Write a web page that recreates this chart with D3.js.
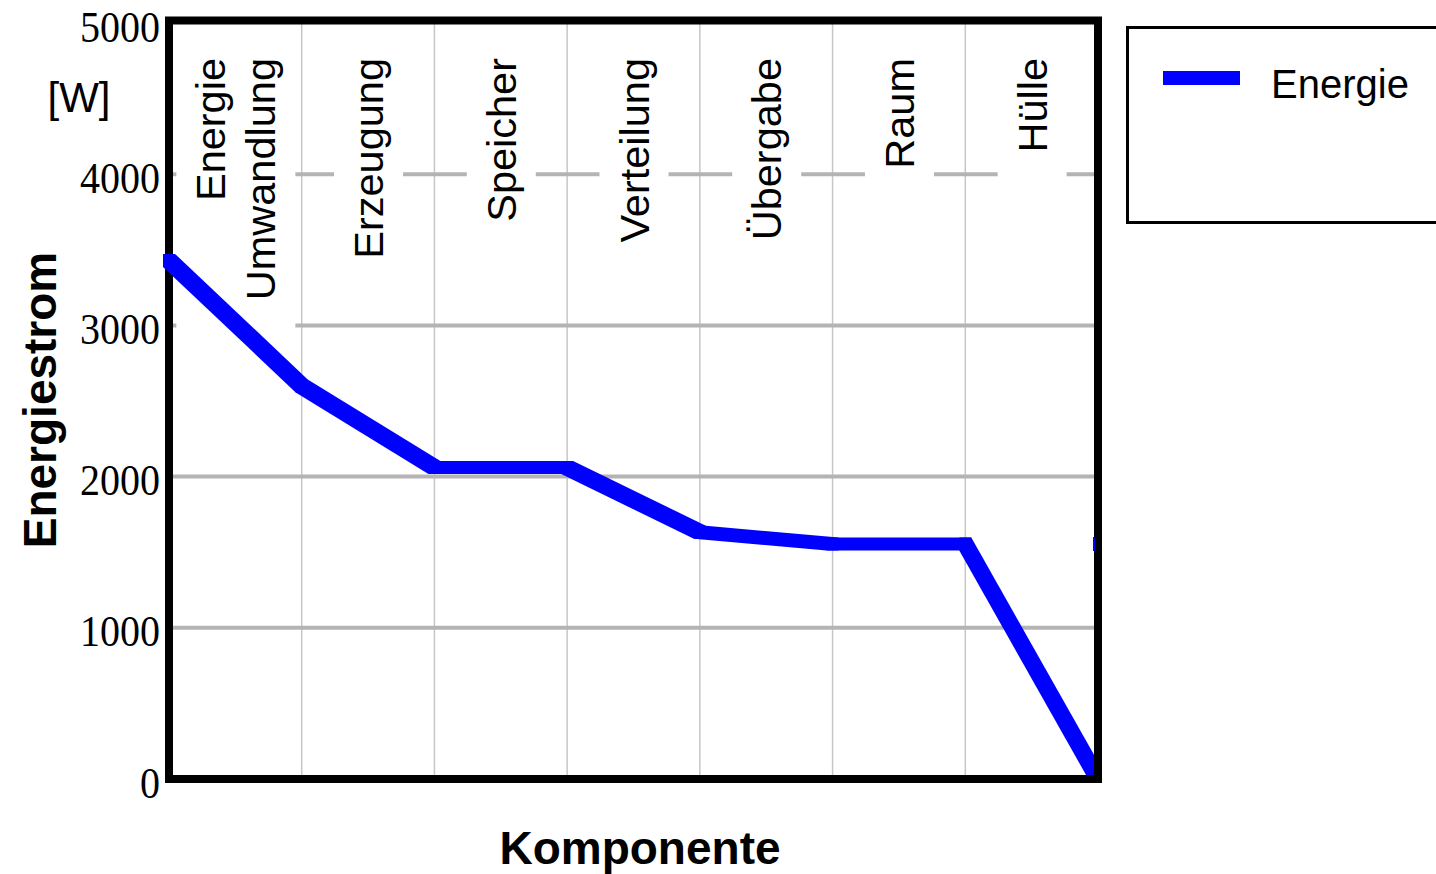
<!DOCTYPE html>
<html><head><meta charset="utf-8">
<script src="https://cdn.jsdelivr.net/npm/d3@7"></script>
<style>html,body{margin:0;padding:0;background:#fff;overflow:hidden}</style>
</head><body><svg id="c" width="1436" height="874"></svg>
<script>
// ---- data ----
const categories = [["Energie","Umwandlung"],["Erzeugung"],["Speicher"],["Verteilung"],["Übergabe"],["Raum"],["Hülle"]];
const boundaryIndex = [0,1,2,3,4,5,6,7];
const energyValues = [3430, 2600, 2060, 2060, 1632, 1554, 1554, 0];
const yTicks = [0,1000,2000,3000,4000,5000];
const gridValues = [1000,2000,3000,4000];
const seriesName = "Energie";
const yLabel = "Energiestrom";
const yUnit = "[W]";
const xLabel = "Komponente";

// ---- layout ----
const L = 169, R = 1098, T = 23, B = 779;
const svg = d3.select("#c");
const x = d3.scaleLinear().domain([0, categories.length]).range([L, R]);
const y = d3.scaleLinear().domain([0, 5000]).range([B, T]);
const sans = "'Liberation Sans', Arial, sans-serif";
const serif = "'Liberation Serif', 'Times New Roman', serif";

svg.append("defs").append("clipPath").attr("id", "clip")
  .append("rect").attr("x", 0).attr("y", 0).attr("width", R - 4).attr("height", B - 4);

// vertical grid lines at category boundaries
svg.append("g").selectAll("line").data(d3.range(1, categories.length)).join("line")
  .attr("x1", d => x(d)).attr("x2", d => x(d)).attr("y1", T).attr("y2", B)
  .attr("stroke", "#c6c6c6").attr("stroke-width", 1.5);

// horizontal grid lines
svg.append("g").selectAll("line").data(gridValues).join("line")
  .attr("x1", L).attr("x2", R).attr("y1", d => y(d)).attr("y2", d => y(d))
  .attr("stroke", "#b4b4b4").attr("stroke-width", 4);

// category labels with white boxes
const lab = svg.append("g").selectAll("g").data(categories).join("g")
  .attr("transform", (d, i) => `translate(${(x(i) + x(i + 1)) / 2},58) rotate(-90)`);
lab.each(function(lines) {
  const g = d3.select(this);
  const t = g.append("text").attr("text-anchor", "end")
    .attr("font-family", sans).attr("font-size", 41.5).attr("fill", "#000");
  lines.forEach((s, k) => {
    t.append("tspan").attr("x", 0).attr("y", 15 + (k - (lines.length - 1) / 2) * 50).text(s);
  });
  const bb = t.node().getBBox();
  g.insert("rect", "text")
    .attr("x", bb.x - 35).attr("width", bb.width + 45)
    .attr("y", bb.y - 11).attr("height", bb.height + 22)
    .attr("fill", "#fff");
});

// frame
svg.append("rect").attr("x", L).attr("y", T - 2.5).attr("width", R - L).attr("height", B - T + 2.5)
  .attr("fill", "none").attr("stroke", "#000").attr("stroke-width", 8);

// y axis tick labels
const ax = svg.append("g").attr("transform", `translate(${L},0)`)
  .call(d3.axisLeft(y).tickValues(yTicks).tickSize(0).tickPadding(9).tickFormat(d3.format("d")));
ax.select(".domain").remove();
ax.selectAll("text").attr("font-family", serif).attr("font-size", 44).attr("fill", "#000")
  .attr("dy", "0.41em")
  .attr("textLength", d => String(d).length * 20).attr("lengthAdjust", "spacingAndGlyphs");

// energy line drawn with a rectangular pen
const hw = 6, hh = 6.5;
const pts = energyValues.map((v, i) => [x(boundaryIndex[i]), y(v)]);
const segs = d3.pairs(pts).map(([a, b]) => {
  const c = [];
  [a, b].forEach(p => c.push([p[0] - hw, p[1] - hh], [p[0] + hw, p[1] - hh], [p[0] + hw, p[1] + hh], [p[0] - hw, p[1] + hh]));
  return d3.polygonHull(c);
});
svg.append("g").attr("clip-path", "url(#clip)").selectAll("path").data(segs).join("path")
  .attr("d", d => "M" + d.join("L") + "Z").attr("fill", "#0000ff");

// right and bottom frame edges over the line
svg.append("path").attr("d", `M${R},${T - 2.5}L${R},${B}L${L},${B}`)
  .attr("fill", "none").attr("stroke", "#000").attr("stroke-width", 8);

// small blue remnant at right edge
svg.append("rect").attr("x", x(boundaryIndex[7]) - 5).attr("width", 2)
  .attr("y", y(energyValues[6]) - 7).attr("height", 14).attr("fill", "#0000ff");

// axis titles
svg.append("text").attr("x", 79).attr("y", 112).attr("text-anchor", "middle")
  .attr("font-family", sans).attr("font-size", 42).text(yUnit);
svg.append("text").attr("transform", "translate(56,400) rotate(-90)").attr("text-anchor", "middle")
  .attr("font-family", sans).attr("font-size", 46).attr("font-weight", "bold").text(yLabel);
svg.append("text").attr("x", 640).attr("y", 864).attr("text-anchor", "middle")
  .attr("font-family", sans).attr("font-size", 46).attr("font-weight", "bold").text(xLabel);

// legend
const lg = svg.append("g");
lg.append("rect").attr("x", 1127.5).attr("y", 27.5).attr("width", 340).attr("height", 195)
  .attr("fill", "#fff").attr("stroke", "#000").attr("stroke-width", 3);
lg.append("rect").attr("x", 1163).attr("y", 71).attr("width", 77).attr("height", 14).attr("fill", "#0000ff");
lg.append("text").attr("x", 1271).attr("y", 98).attr("font-family", sans).attr("font-size", 40).text(seriesName);
</script></body></html>
